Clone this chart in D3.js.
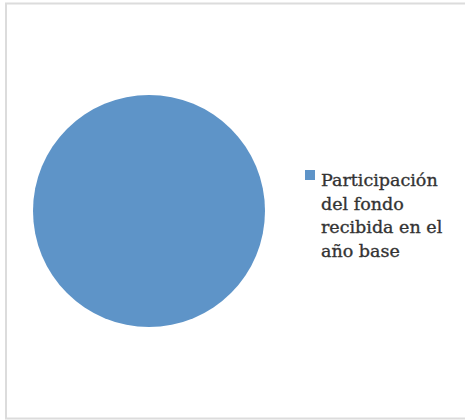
<!DOCTYPE html>
<html>
<head>
<meta charset="utf-8">
<script src="https://cdn.jsdelivr.net/npm/d3@7"></script>
<style>
html,body{margin:0;padding:0;background:#fff;}
svg{display:block;}
</style>
</head>
<body>
<script>
const categories = ["Participación del fondo recibida en el año base"];
const values = [100];
const legendLines = ["Participación", "del fondo", "recibida en el", "año base"];
const colors = ["#5e94c8"];

const W = 465, H = 420;
const svg = d3.select("body").append("svg").attr("width", W).attr("height", H);

svg.append("rect").attr("x", 6).attr("y", 3.5).attr("width", 470).attr("height", 415)
  .attr("fill", "#fff").attr("stroke", "#dcdcdc").attr("stroke-width", 2);

const data = categories.map((c, i) => ({cat: c, val: values[i]}));
const pie = d3.pie().value(d => d.val).sort(null);
const arc = d3.arc().innerRadius(0).outerRadius(116);
const color = d3.scaleOrdinal().domain(categories).range(colors);

svg.append("g").attr("transform", "translate(149,211)")
  .selectAll("path").data(pie(data)).join("path")
  .attr("d", arc).attr("fill", d => color(d.data.cat));

const lg = svg.append("g").attr("transform", "translate(305,170)");
lg.selectAll("rect").data(data).join("rect")
  .attr("x", 0).attr("y", 0).attr("width", 10).attr("height", 10)
  .attr("fill", d => color(d.cat));
const t = lg.append("text").attr("font-family", "'DejaVu Serif', serif")
  .attr("font-size", 17.5).attr("fill", "#333")
  .attr("stroke", "#333").attr("stroke-width", 0.35);
t.selectAll("tspan").data(legendLines).join("tspan")
  .attr("x", 16).attr("y", (d, i) => 16 + i * 23.7).text(d => d);
</script>
</body>
</html>
